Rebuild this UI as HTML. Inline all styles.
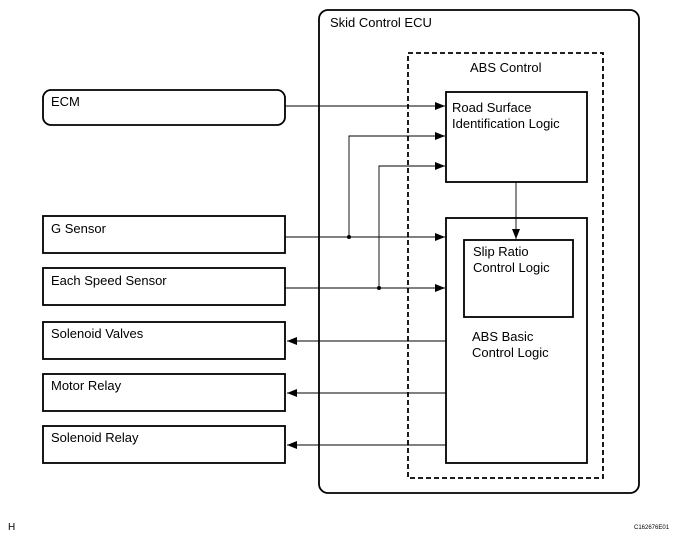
<!DOCTYPE html>
<html><head><style>body{margin:0;background:#fff}</style></head><body>
<svg width="687" height="541" xmlns="http://www.w3.org/2000/svg" font-family="Liberation Sans, sans-serif" font-size="13">
<defs><marker id="a" markerWidth="10" markerHeight="8" refX="10" refY="4" orient="auto" markerUnits="userSpaceOnUse"><path d="M0,0 L10,4 L0,8z" fill="#000"/></marker></defs>
<g fill="none" stroke="#000" stroke-width="1.8">
<rect x="43" y="90" width="242" height="35" rx="8"/>
<rect x="43" y="216" width="242" height="37"/>
<rect x="43" y="268" width="242" height="37"/>
<rect x="43" y="322" width="242" height="37"/>
<rect x="43" y="374" width="242" height="37"/>
<rect x="43" y="426" width="242" height="37"/>
<rect x="319" y="10" width="320" height="483" rx="9"/>
<rect x="408" y="53" width="195" height="425" stroke-dasharray="5,3"/>
<rect x="446" y="92" width="141" height="90"/>
<rect x="446" y="218" width="141" height="245"/>
<rect x="464" y="240" width="109" height="77"/>
</g>
<g fill="none" stroke="#000" stroke-width="0.9">
<line x1="285" y1="106" x2="445" y2="106" marker-end="url(#a)"/>
<polyline points="349,237 349,136 445,136" marker-end="url(#a)"/>
<polyline points="379,288 379,166 445,166" marker-end="url(#a)"/>
<line x1="285" y1="237" x2="445" y2="237" marker-end="url(#a)"/>
<line x1="285" y1="288" x2="445" y2="288" marker-end="url(#a)"/>
<line x1="516" y1="182" x2="516" y2="239" marker-end="url(#a)"/>
<line x1="446" y1="341" x2="287" y2="341" marker-end="url(#a)"/>
<line x1="446" y1="393" x2="287" y2="393" marker-end="url(#a)"/>
<line x1="446" y1="445" x2="287" y2="445" marker-end="url(#a)"/>
</g>
<circle cx="349" cy="237" r="2"/><circle cx="379" cy="288" r="2"/>
<g fill="#000">
<text x="51" y="106">ECM</text>
<text x="51" y="233">G Sensor</text>
<text x="51" y="285">Each Speed Sensor</text>
<text x="51" y="338">Solenoid Valves</text>
<text x="51" y="390">Motor Relay</text>
<text x="51" y="442">Solenoid Relay</text>
<text x="330" y="27">Skid Control ECU</text>
<text x="470" y="72">ABS Control</text>
<text x="452" y="112">Road Surface</text>
<text x="452" y="128">Identification Logic</text>
<text x="473" y="256">Slip Ratio</text>
<text x="473" y="272">Control Logic</text>
<text x="472" y="341">ABS Basic</text>
<text x="472" y="357">Control Logic</text>
<text x="8" y="530" font-size="10">H</text>
<text x="634" y="529" font-size="6">C162676E01</text>
</g>
</svg>
</body></html>
